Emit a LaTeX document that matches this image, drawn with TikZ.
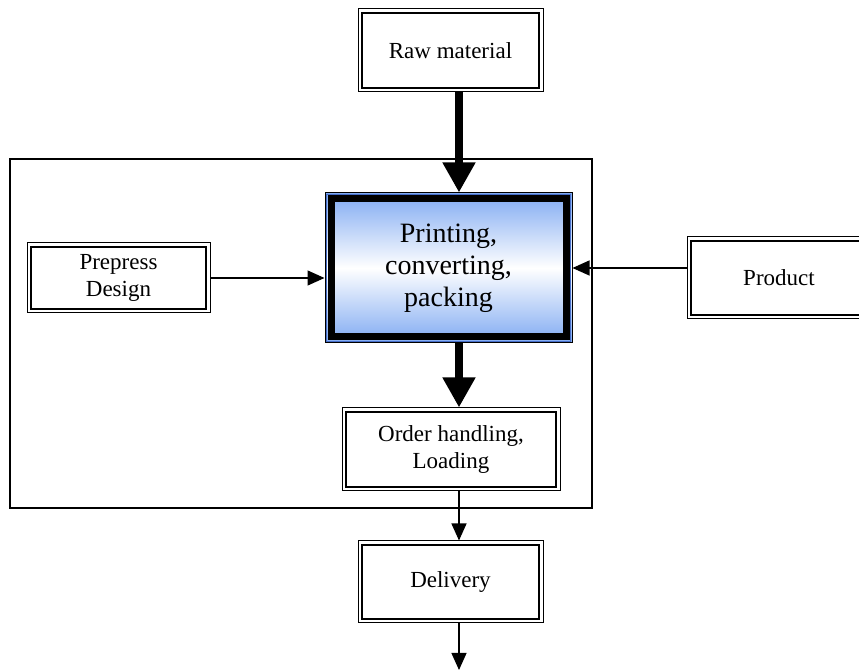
\documentclass[tikz,border=0pt]{standalone}
\usepackage{fontspec}
\setmainfont{Liberation Serif}
\usetikzlibrary{positioning,calc,arrows.meta}
\definecolor{mainblue}{RGB}{128,170,242}
\definecolor{edgeblue}{RGB}{70,110,200}

\tikzset{
    dbox/.style={draw, line width=0.5pt, fill=white, align=center, inner sep=0pt,
        font=\fontsize{11.5}{13.5}\selectfont},
    bigflow/.style={line width=4pt, -{Triangle[width=15.5pt,length=15pt]}},
    thinflow/.style={line width=0.6pt, -{Triangle[width=7.5pt,length=8.5pt]}}
}

\begin{document}
\begin{tikzpicture}[x=0.5pt,y=0.5pt]
            \clip (0,0) rectangle (859,670);
            \fill[white] (0,0) rectangle (859,670);
            % frame round the plant
            \draw[line width=0.6pt] (10,162) rectangle (592,511);
            \node[dbox, minimum width=92.5pt, minimum height=41.5pt] (raw) at (450.5,619.5) {Raw material};
            \node[dbox, minimum width=91.5pt, minimum height=35pt] (pre) at (118.5,392) {Prepress\\Design};
            \node[dbox, minimum width=92pt, minimum height=41pt] (prod) at (779,392) {Product};
            \node[dbox, minimum width=109pt, minimum height=41.5pt] (order) at (451,220.5) {Order handling,\\Loading};
            \node[dbox, minimum width=92.5pt, minimum height=41pt] (deliv) at (450.5,88) {Delivery};
            \node[draw, line width=0.5pt, align=center, inner sep=0pt,
                  top color=mainblue, bottom color=mainblue, middle color=white,
                  minimum width=123.5pt, minimum height=75pt,
                  font=\fontsize{14}{16}\selectfont] (main) at (448.5,402) {Printing,\\converting,\\packing};
            % inner lines of the boxes
            \foreach \n in {raw,pre,prod,order,deliv} {
                \draw[line width=1.25pt] ([shift={(2.25pt,2.25pt)}]\n.south west) rectangle ([shift={(-2.25pt,-2.25pt)}]\n.north east);
            }
            \draw[edgeblue, line width=0.75pt] ([shift={(0.9pt,0.9pt)}]main.south west) rectangle ([shift={(-0.9pt,-0.9pt)}]main.north east);
            \draw[line width=3.5pt] ([shift={(3.25pt,3.25pt)}]main.south west) rectangle ([shift={(-3.25pt,-3.25pt)}]main.north east);
            % flows
            \coordinate (ax) at (459,0);
            \coordinate (out) at (459,0);
            \draw[bigflow] (raw.south -| ax) -- (main.north -| ax);
            \draw[bigflow] (main.south -| ax) -- (order.north -| ax);
            \draw[thinflow] (order.south -| ax) -- (deliv.north -| ax);
            \draw[thinflow] (deliv.south -| ax) -- (out);
            \draw[thinflow] (pre.east) -- (pre.east -| main.west);
            \draw[thinflow] (main.east -| prod.west) -- (main.east);
\end{tikzpicture}
\end{document}
